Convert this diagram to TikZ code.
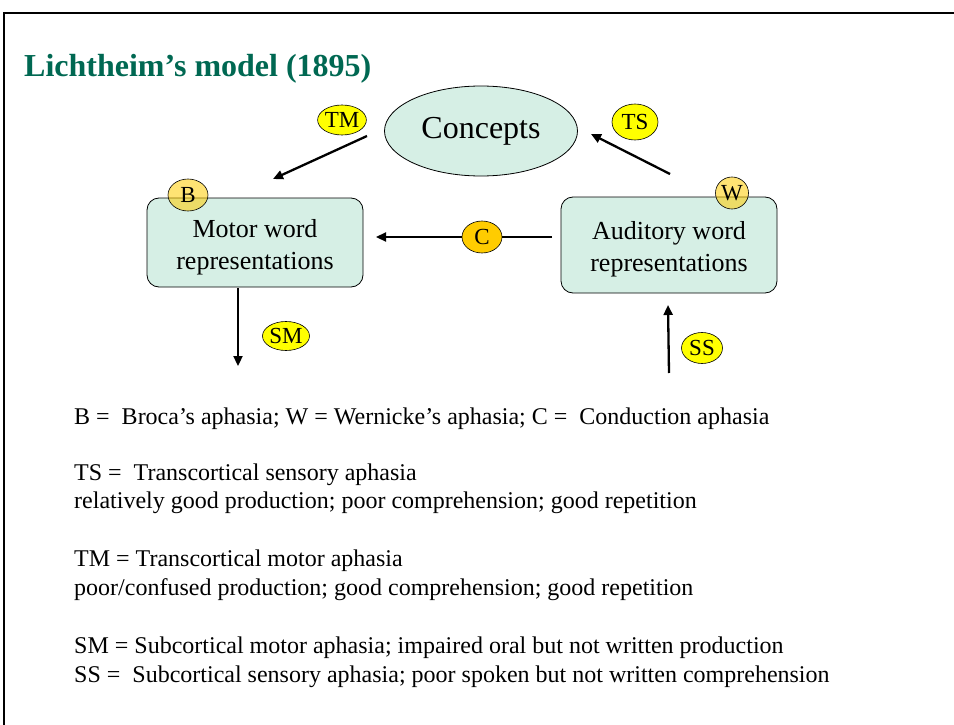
\documentclass[tikz,border=0pt]{standalone}
\usepackage{fontspec}
\setmainfont{Liberation Serif}
\usetikzlibrary{shapes.geometric,arrows.meta}
\definecolor{boxfill}{RGB}{214,239,229}
\definecolor{titlegreen}{RGB}{0,104,82}
\definecolor{badge}{RGB}{255,255,0}
\definecolor{gold}{RGB}{255,204,0}
\begin{document}
\begin{tikzpicture}[x=1pt,y=-1pt,
  box/.style={draw=black, line width=0.8pt, fill=boxfill, rounded corners=12pt,
    minimum width=216pt},
  boxtext/.style={align=center, inner sep=0pt, font=\fontsize{26}{32}\selectfont},
  tag/.style={ellipse, draw=black, line width=0.6pt, fill=badge, inner sep=0pt,
    font=\fontsize{23}{23}\selectfont},
  site/.style={tag, fill=gold, fill opacity=0.55, text opacity=1},
  link/.style={line width=2.3pt, -{Triangle[length=10pt,width=9pt]}},
  note/.style={anchor=base west, inner sep=0pt, font=\fontsize{24}{29}\selectfont}]
\useasboundingbox (0,0) rectangle (954,725);
\draw[line width=2pt] (954,13) -- (4,13) -- (4,725);

% heading
\node[anchor=base west, inner sep=0pt, text=titlegreen,
  font=\fontsize{32}{32}\selectfont\bfseries] (title) at (24,77) {Lichtheim's model (1895)};

% model
\node[ellipse, draw=black, line width=0.8pt, fill=boxfill, minimum width=193pt,
  minimum height=90pt, font=\fontsize{32}{32}\selectfont] (concepts) at (481,131) {Concepts};
\node[box, minimum height=89pt] (motor) at (255,242.5) {};
\node[boxtext] (motortext) at (255,247) {Motor word\\representations};
\node[box, minimum height=96pt] (auditory) at (669,245) {};
\node[boxtext] (auditorytext) at (669,249) {Auditory word\\representations};

% pathways
\coordinate (tmA) at (367,136);
\coordinate (tmB) at (273,179);
\coordinate (tsA) at (670,174);
\coordinate (tsB) at (591,134);
\coordinate (cA) at (552,237);
\coordinate (cB) at (376,237);
\coordinate (smA) at (238,288);
\coordinate (smB) at (238,366);
\coordinate (ssA) at (669,373);
\coordinate (ssB) at (668,305);
\draw[link] (tmA) -- (tmB);
\draw[link] (tsA) -- (tsB);
\draw[link] (cA) -- (cB);
\draw[link] (smA) -- (smB);
\draw[link] (ssA) -- (ssB);

% lesion sites
\node[tag, minimum width=40pt, minimum height=30pt] (tm) at (342,120) {TM};
\node[tag, minimum width=46pt, minimum height=36pt] (ts) at (635,122) {TS};
\node[tag, fill=gold, minimum width=40pt, minimum height=32pt] (c) at (482,237) {C};
\node[tag, minimum width=40pt, minimum height=29pt] (sm) at (286,336) {SM};
\node[tag, minimum width=41pt, minimum height=31pt] (ss) at (702,348) {SS};
\node[site, minimum width=40pt, minimum height=32pt] (b) at (188,195) {B};
\node[site, minimum width=33pt, minimum height=32pt] (w) at (732,193) {W};

% legend
\node[note] (l1) at (74,424) {B =\ \ Broca's aphasia; W = Wernicke's aphasia; C =\ \ Conduction aphasia};
\node[note] (l2) at (74,480) {TS =\ \ Transcortical sensory aphasia};
\node[note] (l3) at (74,508) {relatively good production; poor comprehension; good repetition};
\node[note] (l4) at (74,566) {TM = Transcortical motor aphasia};
\node[note] (l5) at (74,595) {poor/confused production; good comprehension; good repetition};
\node[note] (l6) at (74,653) {SM = Subcortical motor aphasia; impaired oral but not written production};
\node[note] (l7) at (74,682) {SS =\ \ Subcortical sensory aphasia; poor spoken but not written comprehension};
\end{tikzpicture}
\end{document}
